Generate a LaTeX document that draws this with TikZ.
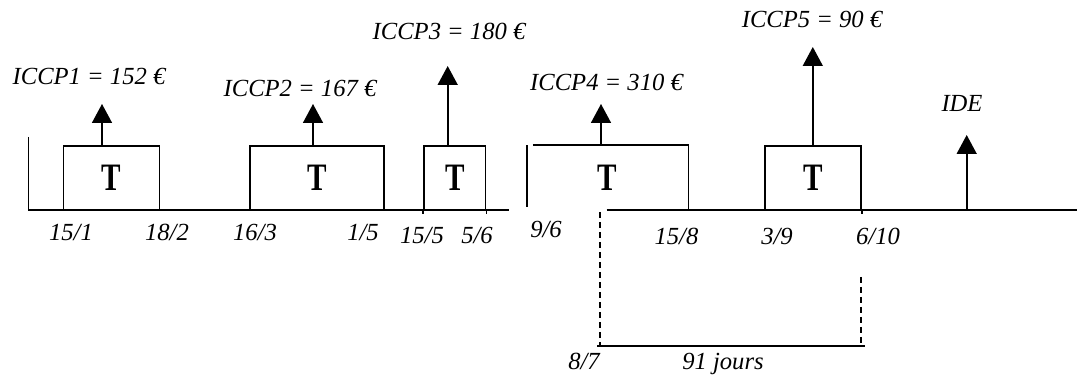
\documentclass[tikz,border=0pt]{standalone}
\usepackage{fontspec}
\setmainfont{Liberation Serif}
\usetikzlibrary{arrows.meta}
\usetikzlibrary{positioning}
\usetikzlibrary{calc}

\newcommand{\bigT}{\scalebox{1}[1.33]{T}}

\begin{document}
\begin{tikzpicture}
  [x=0.5pt, y=-0.5pt, line width=0.8pt,
   every node/.style = {font=\itshape\fontsize{12.3}{14}\selectfont},
   tbox/.style = {draw, inner sep=0pt, minimum height=32pt,
                  font=\bfseries\fontsize{14.6}{14}\selectfont},
   amount/.style = {anchor=base, inner sep=0pt},
   date/.style = {anchor=base, inner sep=0pt},
   up/.style = {-{Triangle[width=10pt, length=9.5pt]}}]
  \useasboundingbox (0,0) rectangle (1077,378);

  \node [tbox, minimum width=47.9pt] (t1) at (111.5,178) {\bigT};
  \node [tbox, minimum width=67.2pt] (t2) at (316.9,178) {\bigT};
  \node [tbox, minimum width=30.8pt] (t3) at (454.8,178) {\bigT};
  \node [tbox, draw=none, minimum width=80pt] (t4) at (607.7,178) {\bigT};
  \node [tbox, minimum width=48pt] (t5) at (813,178) {\bigT};

  \coordinate (l0) at (28.6,137);
  \coordinate (e1) at (509,210);
  \coordinate (s2) at (606.7,210);
  \coordinate (e2) at (1077,210);
  \draw (l0) |- (e1);
  \draw (s2) -- (e2);
  \draw (t4.north west) -- ++(0,62);
  \draw ([xshift=3pt]t4.north west) -| (t4.south east);
  \draw (t3.south west) -- ++(0,3);
  \draw (t3.south east) -- ++(0,3);
  \draw (t5.south east) -- ++(0,3);

  \coordinate (p1) at (102,104);
  \coordinate (p2) at (313,104);
  \coordinate (p3) at (447.7,66);
  \coordinate (p4) at (601,104);
  \coordinate (p5) at (812.8,47);
  \coordinate (p6) at (966.7,135);
  \draw [up] (t1.north -| p1) -- (p1);
  \draw [up] (t2.north -| p2) -- (p2);
  \draw [up] (t3.north -| p3) -- (p3);
  \draw [up] (t4.north -| p4) -- (p4);
  \draw [up] (t5.north -| p5) -- (p5);
  \draw [up] (e2 -| p6) -- (p6);

  \node [amount] (c1) at (89,85) {ICCP1 = 152 €};
  \node [amount] (c2) at (300,97) {ICCP2 = 167 €};
  \node [amount] (c3) at (449,40) {ICCP3 = 180 €};
  \node [amount] (c4) at (606.5,91) {ICCP4 = 310 €};
  \node [amount] (c5) at (812,28) {ICCP5 = 90 €};
  \node [amount] (ide) at (962,112) {IDE};

  \node [date] (j1) at (71,241) {15/1};
  \node [date] (j2) at (167,241) {18/2};
  \node [date] (j3) at (255,241) {16/3};
  \node [date] (j4) at (363,241) {1/5};
  \node [date] (j5) at (422,244) {15/5};
  \node [date] (j6) at (477,244) {5/6};
  \node [date] (j7) at (546,238) {9/6};
  \node [date] (j8) at (676.5,245) {15/8};
  \node [date] (j9) at (777,245) {3/9};
  \node [date] (j10) at (878,245) {6/10};
  \node [date] (j11) at (584,370) {8/7};
  \node [date] (nb) at (723,370) {91 jours};

  \coordinate (k1) at (600,212);
  \coordinate (k2) at (861,277);
  \coordinate (b1) at (597,346);
  \coordinate (b2) at (865,346);
  \draw [dashed, dash pattern=on 3pt off 2pt] (k1) -- (k1 |- b1);
  \draw [dashed, dash pattern=on 3pt off 2pt] (k2) -- (k2 |- b2);
  \draw (b1) -- (b2);
\end{tikzpicture}
\end{document}
